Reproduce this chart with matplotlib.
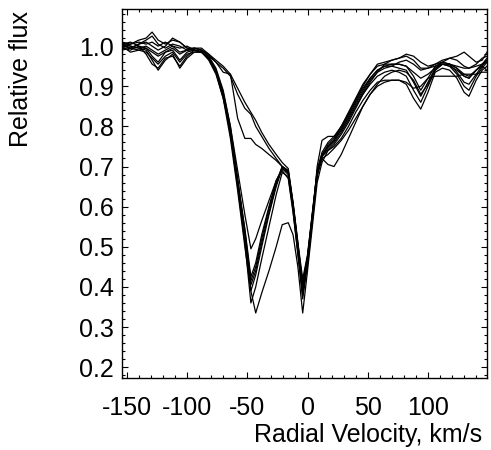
import numpy as np
import matplotlib
matplotlib.use("Agg")
import matplotlib.pyplot as plt
from matplotlib.ticker import MultipleLocator, FormatStrFormatter

plt.rcParams['font.family'] = ['Liberation Sans', 'DejaVu Sans']
plt.rcParams['axes.unicode_minus'] = False

# velocity grid (km/s), shared by all spectra
velocity = [-154, -147, -140, -134, -129, -124, -118, -112, -106, -100, -94, -88, -82,
            -76, -70, -64, -58, -52, -47, -43, -38, -32, -26, -21, -16, -12, -8, -4, 0, 4, 8, 12,
            17, 22, 28, 34, 40, 46, 52, 58, 64, 70, 76, 82, 88, 94, 100, 106, 112, 118, 124,
            130, 134, 140, 145, 149]

flux_1 = [1.005, 1.00, 0.995, 0.99, 0.965, 0.94, 0.965, 0.98, 0.945, 0.97, 0.985, 0.985, 0.97,
          0.935, 0.87, 0.77, 0.64, 0.50, 0.39, 0.335, 0.385, 0.44, 0.50, 0.555, 0.56, 0.53, 0.45, 0.335, 0.44, 0.55, 0.66, 0.71,
          0.74, 0.75, 0.77, 0.80, 0.835, 0.865, 0.89, 0.91, 0.915, 0.915, 0.915, 0.905, 0.87, 0.843, 0.885, 0.935, 0.945, 0.94, 0.92,
          0.885, 0.875, 0.915, 0.94, 0.95]
flux_2 = [1.01, 1.005, 1.015, 1.02, 1.035, 1.015, 1.005, 1.015, 1.01, 0.995, 0.99, 0.985, 0.97,
          0.94, 0.88, 0.78, 0.65, 0.51, 0.36, 0.40, 0.47, 0.55, 0.63, 0.685, 0.675, 0.59, 0.48, 0.37, 0.46, 0.57, 0.68, 0.725,
          0.745, 0.76, 0.785, 0.815, 0.85, 0.88, 0.905, 0.925, 0.935, 0.94, 0.935, 0.925, 0.89, 0.86, 0.90, 0.94, 0.955, 0.95, 0.93,
          0.90, 0.89, 0.925, 0.945, 0.96]
flux_3 = [0.995, 0.99, 1.0, 0.98, 0.955, 0.945, 0.97, 0.975, 0.95, 0.975, 0.99, 0.985, 0.965,
          0.93, 0.87, 0.79, 0.66, 0.53, 0.39, 0.43, 0.50, 0.58, 0.65, 0.695, 0.685, 0.60, 0.50, 0.40, 0.47, 0.58, 0.69, 0.73,
          0.75, 0.765, 0.795, 0.83, 0.865, 0.895, 0.92, 0.94, 0.95, 0.95, 0.945, 0.94, 0.91, 0.875, 0.91, 0.945, 0.96, 0.955, 0.935,
          0.91, 0.905, 0.93, 0.95, 0.965]
flux_4 = [1.0, 0.995, 1.005, 1.01, 1.0, 0.99, 1.0, 1.02, 1.01, 0.995, 0.995, 0.99, 0.975,
          0.945, 0.89, 0.80, 0.67, 0.54, 0.415, 0.45, 0.52, 0.595, 0.66, 0.70, 0.69, 0.61, 0.51, 0.42, 0.48, 0.585, 0.69, 0.735,
          0.76, 0.775, 0.80, 0.835, 0.87, 0.905, 0.93, 0.95, 0.955, 0.955, 0.955, 0.95, 0.925, 0.89, 0.92, 0.95, 0.955, 0.95, 0.94,
          0.925, 0.92, 0.94, 0.955, 0.97]
flux_5 = [1.005, 1.01, 1.0, 0.995, 0.975, 0.96, 0.985, 0.99, 0.965, 0.985, 0.99, 0.985, 0.97,
          0.935, 0.875, 0.785, 0.665, 0.545, 0.425, 0.46, 0.53, 0.60, 0.665, 0.69, 0.67, 0.585, 0.485, 0.38, 0.455, 0.565, 0.675, 0.72,
          0.73, 0.745, 0.765, 0.79, 0.82, 0.85, 0.88, 0.90, 0.91, 0.915, 0.915, 0.91, 0.895, 0.90, 0.92, 0.925, 0.925, 0.925, 0.925,
          0.93, 0.93, 0.93, 0.935, 0.935]
flux_6 = [0.99, 0.995, 1.005, 1.015, 1.025, 1.005, 0.995, 1.005, 1.0, 0.99, 0.99, 0.985, 0.97,
          0.94, 0.885, 0.80, 0.69, 0.58, 0.495, 0.52, 0.565, 0.615, 0.665, 0.695, 0.68, 0.60, 0.49, 0.39, 0.465, 0.57, 0.68, 0.725,
          0.755, 0.77, 0.80, 0.83, 0.865, 0.90, 0.93, 0.955, 0.96, 0.965, 0.97, 0.975, 0.965, 0.945, 0.945, 0.95, 0.96, 0.97, 0.975,
          0.985, 0.975, 0.96, 0.965, 0.985]
flux_7 = [1.0, 0.985, 0.99, 0.985, 0.97, 0.955, 0.975, 0.985, 0.96, 0.98, 0.985, 0.985, 0.97,
          0.94, 0.88, 0.79, 0.665, 0.53, 0.405, 0.44, 0.51, 0.585, 0.655, 0.70, 0.685, 0.605, 0.505, 0.41, 0.475, 0.58, 0.685, 0.72,
          0.705, 0.70, 0.73, 0.77, 0.81, 0.85, 0.88, 0.905, 0.925, 0.935, 0.94, 0.935, 0.915, 0.88, 0.905, 0.94, 0.955, 0.955, 0.945,
          0.925, 0.92, 0.94, 0.955, 0.965]
flux_8 = [1.01, 1.0, 0.995, 1.0, 0.99, 0.98, 0.99, 1.0, 0.985, 0.99, 0.995, 0.99, 0.98,
          0.96, 0.935, 0.93, 0.82, 0.77, 0.77, 0.755, 0.745, 0.73, 0.715, 0.70, 0.685, 0.60, 0.50, 0.385, 0.46, 0.565, 0.70, 0.765,
          0.775, 0.775, 0.79, 0.82, 0.855, 0.885, 0.915, 0.935, 0.945, 0.95, 0.96, 0.965, 0.955, 0.94, 0.945, 0.955, 0.96, 0.955, 0.95,
          0.945, 0.945, 0.95, 0.955, 0.96]
flux_9 = [1.0, 1.005, 1.01, 1.005, 1.01, 1.0, 1.01, 1.0, 0.995, 1.0, 0.99, 0.99, 0.975,
          0.96, 0.945, 0.925, 0.88, 0.845, 0.83, 0.80, 0.775, 0.745, 0.72, 0.70, 0.69, 0.605, 0.50, 0.395, 0.47, 0.575, 0.68, 0.725,
          0.74, 0.755, 0.78, 0.81, 0.845, 0.88, 0.91, 0.935, 0.955, 0.965, 0.97, 0.98, 0.975, 0.96, 0.95, 0.955, 0.965, 0.97, 0.965,
          0.95, 0.945, 0.955, 0.97, 0.975]
flux_10 = [1.005, 0.995, 0.99, 0.995, 0.985, 0.975, 0.985, 0.995, 0.98, 0.99, 0.995, 0.995, 0.98,
           0.965, 0.95, 0.93, 0.895, 0.86, 0.835, 0.815, 0.785, 0.755, 0.73, 0.71, 0.695, 0.61, 0.51, 0.40, 0.475, 0.58, 0.685, 0.73,
           0.75, 0.765, 0.79, 0.825, 0.86, 0.89, 0.92, 0.94, 0.95, 0.955, 0.955, 0.95, 0.935, 0.92, 0.93, 0.945, 0.955, 0.955, 0.945,
           0.93, 0.925, 0.94, 0.95, 0.94]

profiles = [flux_1, flux_2, flux_3, flux_4, flux_5, flux_6, flux_7, flux_8, flux_9, flux_10]

fig = plt.figure(figsize=(4.91, 4.5), dpi=100)
ax = fig.add_axes([122 / 491, 1 - 378 / 450, 365 / 491, 369 / 450])

for flux in profiles:
    ax.plot(velocity, flux, color='black', lw=0.9)

ax.set_xlim(-154, 149)
ax.set_ylim(0.173, 1.0925)

ax.xaxis.set_major_locator(MultipleLocator(50))
ax.xaxis.set_minor_locator(MultipleLocator(10))
ax.yaxis.set_major_locator(MultipleLocator(0.1))
ax.yaxis.set_minor_locator(MultipleLocator(0.02))
ax.yaxis.set_major_formatter(FormatStrFormatter('%.1f'))

ax.tick_params(which='both', direction='in', top=True, right=True, width=0.8)
ax.tick_params(which='major', length=4, labelsize=18)
ax.tick_params(which='minor', length=2)
ax.tick_params(axis='x', which='major', pad=13)
ax.tick_params(axis='y', which='major', pad=6)
for s in ax.spines.values():
    s.set_linewidth(1.0)

ax.set_xlabel('Radial Velocity, km/s', fontsize=18, loc='right')
ax.xaxis.set_label_coords((482 - 122) / 365, -0.122)
ax.set_ylabel('Relative flux', fontsize=18, loc='top')
ax.yaxis.set_label_coords(-0.245, 0.995)

fig.savefig('out.png', dpi=100)
